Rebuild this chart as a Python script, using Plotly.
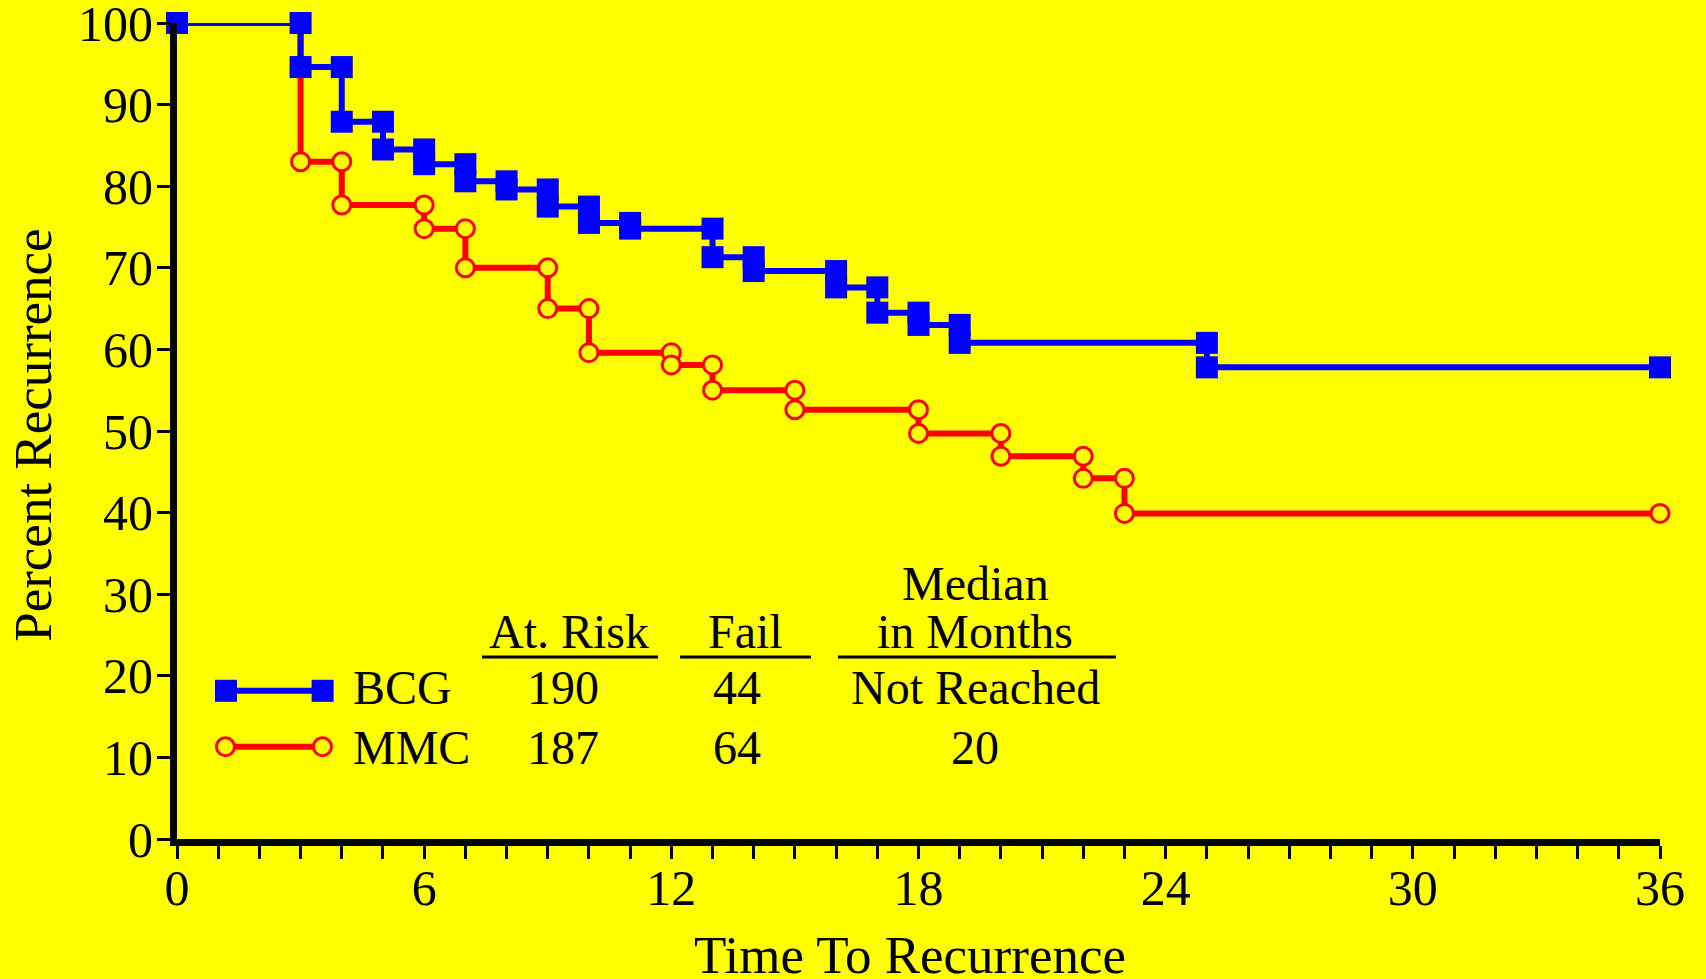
import plotly.graph_objects as go

# ---------------- data ----------------
bcg_times = [0, 3, 4, 5, 6, 7, 8, 9, 10, 11, 13, 14, 16, 17, 18, 19, 25]
bcg_levels = [100, 94.6, 87.9, 84.5, 82.7, 80.6, 79.6, 77.5, 75.5, 74.8, 71.3, 69.6, 67.6, 64.5, 63.0, 60.8, 57.8]
mmc_times = [0, 3, 4, 6, 7, 9, 10, 12, 13, 15, 18, 20, 22, 23]
mmc_levels = [100, 83.0, 77.7, 74.8, 70.0, 65.0, 59.6, 58.1, 55.0, 52.6, 49.7, 46.9, 44.2, 39.9]
follow_up_end = 36

x_tick_values = [0, 6, 12, 18, 24, 30, 36]
x_tick_labels = ["0", "6", "12", "18", "24", "30", "36"]
y_tick_values = [0, 10, 20, 30, 40, 50, 60, 70, 80, 90, 100]
y_tick_labels = ["0", "10", "20", "30", "40", "50", "60", "70", "80", "90", "100"]

groups = ["BCG", "MMC"]
at_risk = ["190", "187"]
fails = ["44", "64"]
medians = ["Not Reached", "20"]
x_title = "Time To Recurrence"
y_title = "Percent Recurrence"


def steps(times, levels, end):
    xs, ys = [times[0]], [levels[0]]
    for i in range(1, len(times)):
        xs += [times[i], times[i]]
        ys += [levels[i - 1], levels[i]]
    xs.append(end)
    ys.append(levels[-1])
    return xs, ys


# ---------------- style / layout ----------------
W, H = 1706, 979
ML, MR, MT, MB = 177, 46, 23, 140
PW, PH = W - ML - MR, H - MT - MB
BG = "#FFFF00"
BLUE = "#0000FF"
RED = "#FF0000"
FONT = "Liberation Serif, Times New Roman, serif"


def px(x, y):
    return (x - ML) / PW, (H - MB - y) / PH


mx, my = steps(mmc_times, mmc_levels, follow_up_end)
bx, by = steps(bcg_times, bcg_levels, follow_up_end)

fig = go.Figure()
fig.add_trace(go.Scatter(
    x=mx, y=my, mode="lines+markers", name="MMC", cliponaxis=False,
    line=dict(color=RED, width=6),
    marker=dict(symbol="circle", size=18, color=BG, line=dict(color=RED, width=3)),
))
fig.add_trace(go.Scatter(
    x=bx, y=by, mode="lines+markers", name="BCG", cliponaxis=False,
    line=dict(color=BLUE, width=6),
    marker=dict(symbol="square", size=22, color=BLUE, line=dict(width=0)),
))

annotations = []
shapes = []

def text(s, x, y, size=48, xanchor="center", angle=0):
    xp, yp = px(x, y)
    annotations.append(dict(
        text=s, x=xp, y=yp, xref="paper", yref="paper", showarrow=False,
        xanchor=xanchor, yanchor="middle", textangle=angle,
        font=dict(family=FONT, size=size, color="black"),
    ))

def hline(x0, x1, y, color="black", width=3):
    a0, b0 = px(x0, y)
    a1, b1 = px(x1, y)
    shapes.append(dict(type="line", xref="paper", yref="paper", x0=a0, x1=a1, y0=b0, y1=b1,
                       line=dict(color=color, width=width)))

# table headers (centre positions; y = text centre in px)
off = 16.2
text("Median", 975, 599.3 - off)
text("in Months", 975, 647.3 - off)
text("At. Risk", 569, 647.3 - off)
text("Fail", 745, 647.3 - off)
hline(482, 658, 657)
hline(680, 811, 657)
hline(838, 1116, 657)

row_base = [703.5, 764]
for i, g in enumerate(groups):
    yc = row_base[i] - off
    text(g, 351, yc, xanchor="left")
    text(at_risk[i], 562.5, yc)
    text(fails[i], 737, yc)
    text(medians[i], 975, yc)

# legend keys
hline(226, 322.6, 690.8, color=BLUE, width=6)
for cx in (226, 322.6):
    a0, b0 = px(cx - 11, 690.8 + 11)
    a1, b1 = px(cx + 11, 690.8 - 11)
    shapes.append(dict(type="rect", xref="paper", yref="paper", x0=a0, x1=a1, y0=b0, y1=b1,
                       fillcolor=BLUE, line=dict(width=0)))
hline(225.5, 322.5, 746.7, color=RED, width=6)
for cx in (225.5, 322.5):
    a0, b0 = px(cx - 9, 746.7 + 9)
    a1, b1 = px(cx + 9, 746.7 - 9)
    shapes.append(dict(type="circle", xref="paper", yref="paper", x0=a0, x1=a1, y0=b0, y1=b1,
                       fillcolor=BG, line=dict(color=RED, width=3)))

# axis titles
text(x_title, 910, 972.7 - 17.9, size=53)
text(y_title, 32.8, 435, size=53, angle=-90)

fig.update_layout(
    width=W, height=H,
    margin=dict(l=ML, r=MR, t=MT, b=MB, autoexpand=False),
    paper_bgcolor=BG, plot_bgcolor=BG,
    showlegend=False,
    annotations=annotations,
    shapes=shapes,
    font=dict(family=FONT, color="black"),
)
fig.update_xaxes(
    range=[0, 36], showgrid=False, zeroline=False,
    showline=True, linecolor="black", linewidth=7,
    tickmode="array", tickvals=x_tick_values, ticktext=x_tick_labels,
    ticks="outside", ticklen=13, tickwidth=2.5, tickcolor="black",
    tickfont=dict(family=FONT, size=50, color="black"),
    ticklabeloverflow="allow", ticklabelstandoff=-14,
    minor=dict(dtick=1, ticks="outside", ticklen=13, tickwidth=2.5, tickcolor="black", showgrid=False),
)
fig.update_yaxes(
    range=[0, 100], showgrid=False, zeroline=False,
    showline=True, linecolor="black", linewidth=7,
    tickmode="array", tickvals=y_tick_values, ticktext=y_tick_labels,
    ticks="outside", ticklen=13, tickwidth=2.5, tickcolor="black",
    tickfont=dict(family=FONT, size=50, color="black"),
    ticklabeloverflow="allow", ticklabelstandoff=-6,
)

fig.write_html(
    "out.html",
    config={"displayModeBar": False},
    post_script="document.body.style.margin='0';document.body.style.padding='0';",
)
